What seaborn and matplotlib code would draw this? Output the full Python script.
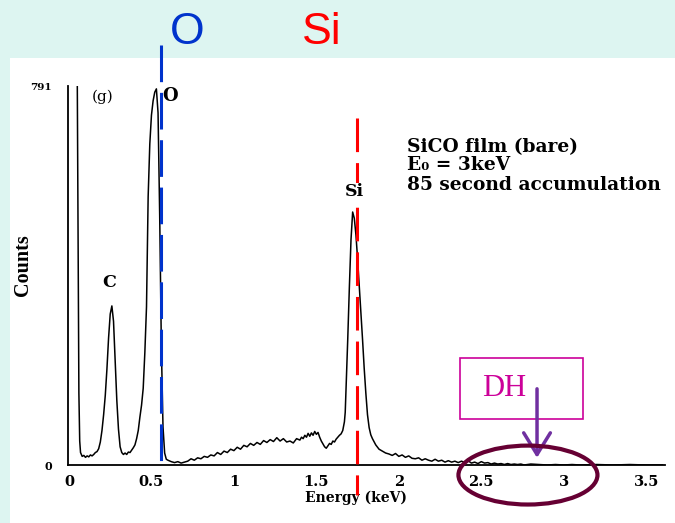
import matplotlib
matplotlib.use("Agg")
import matplotlib.pyplot as plt
import seaborn as sns
from matplotlib.patches import Ellipse, Rectangle

# EDS spectrum of the bare SiCO film (energy in keV, counts)
energy_kev = [
    0.040, 0.050, 0.055, 0.060, 0.065, 0.070, 0.080, 0.090, 0.100, 0.110,
    0.120, 0.130, 0.140, 0.150, 0.160, 0.170, 0.180, 0.190, 0.200, 0.210,
    0.220, 0.230, 0.240, 0.250, 0.260, 0.270, 0.280, 0.290, 0.300, 0.310,
    0.320, 0.330, 0.340, 0.350, 0.360, 0.370, 0.380, 0.390, 0.400, 0.410,
    0.420, 0.430, 0.440, 0.450, 0.460, 0.470, 0.480, 0.490, 0.500, 0.510,
    0.520, 0.530, 0.540, 0.550, 0.560, 0.570, 0.580, 0.590,
    0.60, 0.62, 0.64, 0.66, 0.68, 0.70, 0.72, 0.74, 0.76, 0.78,
    0.80, 0.82, 0.84, 0.86, 0.88, 0.90, 0.92, 0.94, 0.96, 0.98,
    1.00, 1.02, 1.04, 1.06, 1.08, 1.10, 1.12, 1.14, 1.16, 1.18,
    1.20, 1.22, 1.24, 1.26, 1.28, 1.30, 1.32, 1.34, 1.36, 1.38,
    1.40, 1.41, 1.42, 1.43, 1.44, 1.45, 1.46, 1.47, 1.48, 1.49,
    1.50, 1.51, 1.52, 1.53, 1.54, 1.55, 1.56, 1.57, 1.58, 1.59,
    1.60, 1.61, 1.62, 1.63, 1.64,
    1.650, 1.660, 1.670, 1.675, 1.680, 1.690, 1.700, 1.710, 1.720, 1.730,
    1.740, 1.750, 1.760, 1.770, 1.780, 1.790, 1.800, 1.810, 1.820, 1.830,
    1.840, 1.860, 1.880,
    1.90, 1.92, 1.94, 1.96, 1.98, 2.00, 2.02, 2.04, 2.06, 2.08,
    2.10, 2.12, 2.14, 2.16, 2.18, 2.20, 2.22, 2.24, 2.26, 2.28,
    2.30, 2.32, 2.34, 2.36, 2.38, 2.40, 2.42, 2.44, 2.46, 2.48,
    2.50, 2.52, 2.54, 2.56, 2.58, 2.60, 2.62, 2.64, 2.66, 2.68,
    2.70, 2.72, 2.74, 2.76, 2.78, 2.80, 2.85, 2.90, 2.95, 3.00,
    3.05, 3.10, 3.20, 3.30, 3.40, 3.50, 3.60,
]
counts = [
    1000, 820, 500, 150, 50, 26, 18, 20, 16, 19,
    17, 21, 19, 22, 26, 28, 34, 48, 72, 105,
    145, 200, 265, 315, 332, 300, 215, 135, 75, 38,
    26, 22, 25, 22, 27, 26, 31, 36, 42, 55,
    72, 100, 125, 160, 235, 330, 560, 670, 730, 760,
    778, 785, 735, 520, 250, 80, 25, 12,
    10, 7, 5, 7, 4, 6, 8, 13, 10, 15,
    13, 18, 16, 21, 19, 26, 22, 29, 26, 33,
    30, 37, 33, 41, 38, 45, 41, 47, 43, 51,
    47, 53, 49, 57, 50, 55, 48, 50, 46, 55,
    52, 58, 55, 62, 58, 66, 60, 67, 62, 70,
    64, 68, 58, 50, 44, 38, 35, 40, 45, 43,
    50, 48, 54, 58, 62,
    65, 72, 90, 110, 160, 260, 370, 470, 528, 515,
    480, 430, 375, 320, 262, 202, 150, 105, 78, 63,
    55, 42, 33,
    29, 25, 23, 20, 24, 18, 21, 16, 19, 14,
    13, 15, 10, 13, 10, 8, 12, 8, 10, 6,
    9, 6, 8, 5, 8, 5, 9, 4, 6, 3,
    7, 4, 5, 2, 4, 2, 3, 1, 3, 1,
    2, 1, 2, 0, 1, 2, 1, 0, 1, 0,
    1, 0, 1, 0, 1, 0, 0,
]

x_ticks = [0, 0.5, 1, 1.5, 2, 2.5, 3, 3.5]
x_tick_labels = ["0", "0.5", "1", "1.5", "2", "2.5", "3", "3.5"]
y_max = 791
y_tick_step = 79.1
o_line_kev = 0.558
si_line_kev = 1.746

sns.set_theme(style="white")
plt.rcParams["font.family"] = ["DejaVu Serif", "DejaVu Sans"]
plt.rcParams.update({"text.color": "black", "axes.labelcolor": "black",
                     "xtick.color": "black", "ytick.color": "black"})

fig = plt.figure(figsize=(6.75, 5.23), dpi=100)
fig.patch.set_facecolor("#ddf5f1")
panel = Rectangle((10 / 675, 0), 1, 465 / 523, transform=fig.transFigure,
                  facecolor="white", edgecolor="none", zorder=-10)
fig.patches.append(panel)

ax = fig.add_axes([68 / 675, 58 / 523, 597 / 675, 379 / 523])
ax.set_zorder(1)
ax.set_facecolor("none")

sns.lineplot(x=energy_kev, y=counts, estimator=None, sort=False,
             color="black", linewidth=1.1, ax=ax, zorder=2)

ax.set_xlim(-0.006, 3.614)
ax.set_ylim(0, y_max)

for side in ("top", "right"):
    ax.spines[side].set_visible(False)
for side in ("left", "bottom"):
    ax.spines[side].set_color("black")
    ax.spines[side].set_linewidth(1.3)

ax.set_xticks(x_ticks)
ax.set_xticklabels(x_tick_labels, fontweight="bold", fontsize=10.5)
ax.tick_params(axis="x", length=0, pad=7)

y_ticks = [i * y_tick_step for i in range(11)]
ax.set_yticks(y_ticks)
ax.set_yticklabels(["0"] + [""] * 9 + ["791"], fontweight="bold")
ylabels = ax.get_yticklabels()
ylabels[0].set_fontsize(8)
ylabels[-1].set_fontsize(7.5)
ax.tick_params(axis="y", length=3.5, width=1.3, direction="out", pad=8)

ax.set_ylabel("Counts", fontfamily="Liberation Serif", fontweight="bold", fontsize=14.5)
ax.yaxis.set_label_coords(-0.058, 0.527)
ax.set_xlabel("Energy (keV)", fontweight="bold", fontsize=10)
ax.xaxis.set_label_coords(0.482, -0.087)
ax.xaxis.label.set_va("center")

# element marker lines
ax.plot([o_line_kev, o_line_kev], [877, 0], color="#0033cc", lw=2.2,
        dashes=(12, 3.5), clip_on=False, zorder=3)
ax.plot([si_line_kev, si_line_kev], [724, -62], color="#ff0000", lw=2.2,
        dashes=(11, 3.6), clip_on=False, zorder=3)

# peak labels and run description
ax.text(0.206, 768, "(g)", fontsize=11, ha="center", va="center", zorder=4)
ax.text(0.613, 770, "O", fontsize=13, fontweight="bold", ha="center", va="center", zorder=4)
ax.text(0.243, 380, "C", fontsize=12.5, fontweight="bold", ha="center", va="center", zorder=4)
ax.text(1.728, 570, "Si", fontsize=12.5, fontweight="bold", ha="center", va="center", zorder=4,
        bbox=dict(facecolor="white", edgecolor="none", pad=0.5))
for text, c in (("SiCO film (bare)", 664), ("E₀ = 3keV", 626),
                ("85 second accumulation", 584)):
    ax.text(2.05, c, text, fontsize=13.4, fontweight="bold", ha="left", va="center", zorder=4)

# DH callout
ax.add_patch(Rectangle((2.371, 96), 0.746, 127, facecolor="none", edgecolor="#cc0099",
                       lw=1.2, zorder=4))
ax.text(2.638, 159, "DH", fontfamily="Liberation Serif", fontsize=22, color="#cc0099",
        ha="center", va="center", zorder=4)
ax.annotate("", xy=(2.838, 15), xytext=(2.838, 159),
            arrowprops=dict(arrowstyle="->,head_length=1.3,head_width=0.8",
                            color="#7030a0", lw=2.5, shrinkA=0, shrinkB=0), zorder=5)
ax.add_patch(Ellipse((2.783, -21), 0.843, 123, facecolor="none", edgecolor="#660033",
                     lw=3, clip_on=False, zorder=5))

# element names above the panel
fig.text(187 / 675, 1 - 32 / 523, "O", color="#0033cc", fontfamily="Liberation Sans",
         fontsize=32, ha="center", va="center")
fig.text(322 / 675, 1 - 32 / 523, "Si", color="#ff0000", fontfamily="Liberation Sans",
         fontsize=32, ha="center", va="center")

fig.savefig("out.png", dpi=100, facecolor=fig.get_facecolor())
